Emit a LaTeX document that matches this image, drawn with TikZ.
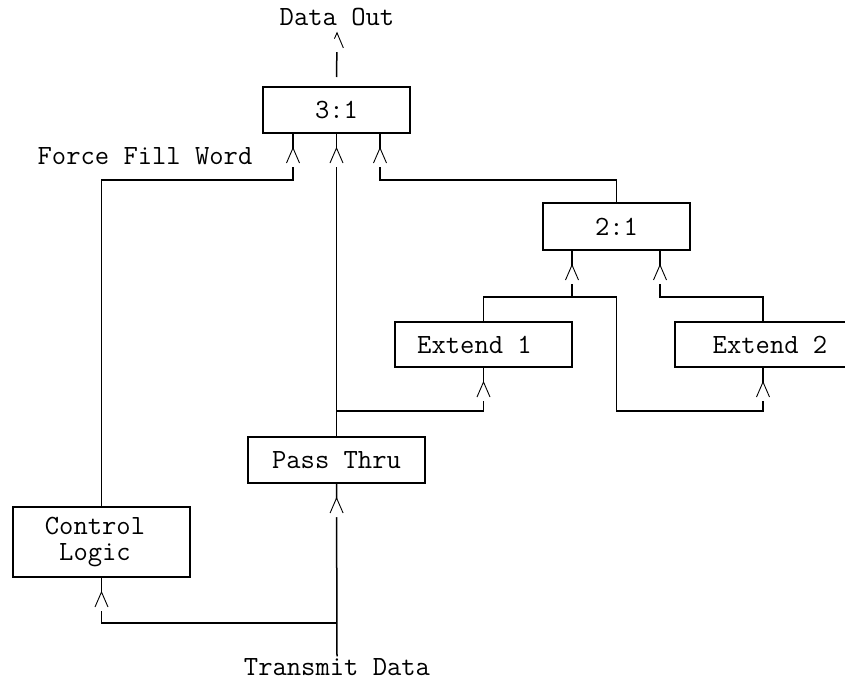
\documentclass[tikz,border=0pt]{standalone}
\usepackage{fontspec}
\usepackage{tikz}
\usetikzlibrary{calc,decorations.markings}

\tikzset{
  box/.style={draw, line width=0.7pt, inner sep=0pt, outer sep=0pt,
    minimum width=88.5pt, minimum height=23pt, align=center},
  lbl/.style={inner sep=0pt, outer sep=0pt},
  wire/.style={line width=0.75pt},
  caret/.style={wire, postaction={decorate, decoration={markings,
    mark=at position -#1 with {
      \fill[white] (-19,-2) rectangle (-0.8,2);
      \draw[line width=0.45pt] (-15,-6.5) -- (0,0) -- (-15,6.5);
    }}}},
  caret/.default=7.5pt
}

\begin{document}
\begin{tikzpicture}[x=0.5pt,y=-0.5pt,font=\ttfamily\fontsize{13.9}{11.5}\selectfont]
    \useasboundingbox (0,0) rectangle (845,685);
    \def\blocks{
      \node[box, minimum width=73.5pt] (mux3) at (336.5,110) {3:1};
      \node[box, minimum width=73.5pt, minimum height=23.5pt] (mux2) at (616.5,226.5) {2:1};
      \node[box, minimum height=22.5pt, label={[xshift=-4.5pt]center:Extend 1}] (ext1) at (483.5,344.5) {};
      \node[box, minimum width=95pt, minimum height=22.5pt] (ext2) at (770,344.5) {Extend 2};
      \node[box] (pass) at (336.5,460) {Pass Thru};
      \node[box, minimum height=35pt, label={[xshift=-3.25pt, align=center,
        font=\ttfamily\fontsize{13.9}{12.6}\selectfont]center:Control\\Logic}] (ctl) at (101.5,542) {};
    }
    \def\labels{
      \node[lbl, outer ysep=3.5pt] (out) at (337,17) {Data Out};
      \node[lbl] (force) at (145,156) {Force Fill Word};
      \node[lbl, outer ysep=1pt] (in) at (337,667) {Transmit Data};
    }
    \def\wires{
      % output of 3:1
      \draw[caret=0.01pt, shorten <=5pt] (mux3.north) -- (out.south);
      % inputs of 3:1
      \draw[caret] (ctl.north) |- ($(mux3.south)+(-43.5,47)$) -- ($(mux3.south)+(-43.5,0)$);
      \draw[caret] (pass.north) -- (mux3.south);
      \draw[caret] (mux2.north) |- ($(mux3.south)+(43.5,47)$) -- ($(mux3.south)+(43.5,0)$);
      % inputs of 2:1
      \draw[caret] (ext1.north) |- ($(mux2.south)+(-44.5,47)$) -- ($(mux2.south)+(-44.5,0)$);
      \draw[caret] ($(ext2.north)+(-7,0)$) |- ($(mux2.south)+(43.5,47)$) -- ($(mux2.south)+(43.5,0)$);
      % feeds of the extend blocks
      \draw[caret] ($(pass.north)+(0,-26)$) -| (ext1.south);
      \draw[caret] (ext1.north) |- ($(mux2.south)+(0,47)$) -- ($(mux2.south)+(0,161)$) -| ($(ext2.south)+(-7,0)$);
      % transmit data
      \draw[caret] (in.north) -- (pass.south);
      \draw[caret] ($(pass.south)+(0,140)$) -| (ctl.south);
    }
    \blocks
    \labels
    \wires
\end{tikzpicture}
\end{document}
